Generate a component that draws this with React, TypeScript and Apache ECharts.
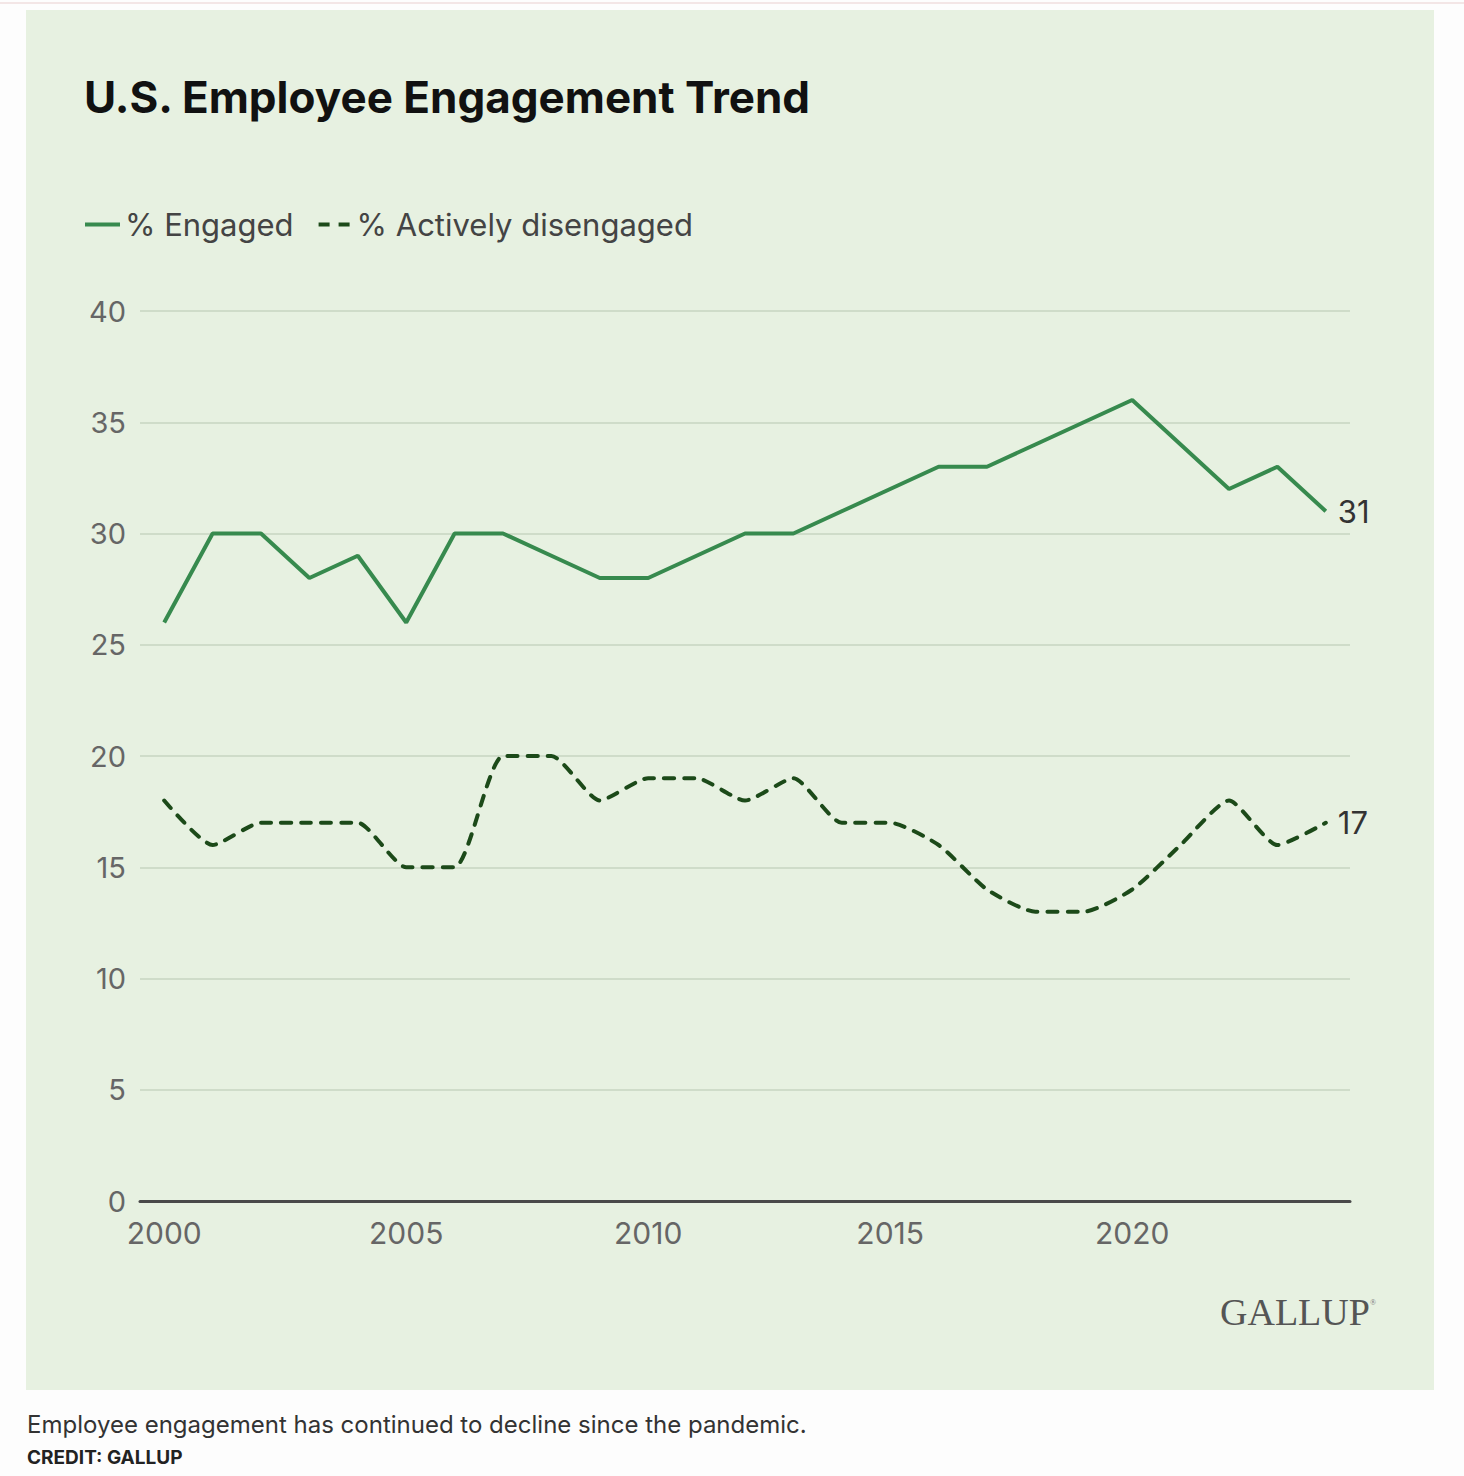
import React, { useEffect, useRef } from "react";
import * as echarts from "echarts";

const years = [
  "2000", "2001", "2002", "2003", "2004", "2005", "2006", "2007", "2008",
  "2009", "2010", "2011", "2012", "2013", "2014", "2015", "2016", "2017",
  "2018", "2019", "2020", "2021", "2022", "2023", "2024",
];
const engaged = [
  26, 30, 30, 28, 29, 26, 30, 30, 29, 28, 28, 29, 30, 30, 31, 32, 33, 33, 34,
  35, 36, 34, 32, 33, 31,
];
const disengaged = [
  18, 16, 17, 17, 17, 15, 15, 20, 20, 18, 19, 19, 18, 19, 17, 17, 16, 14, 13,
  13, 14, 16, 18, 16, 17,
];

const ENGAGED_COLOR = "#378a4e";
const DISENGAGED_COLOR = "#1c4a19";
const FONT = "Inter, 'Noto Sans', sans-serif";

const App: React.FC = () => {
  const chartRef = useRef<HTMLDivElement>(null);

  useEffect(() => {
    document.body.style.margin = "0";
    if (!chartRef.current) return;
    const chart = echarts.init(chartRef.current, undefined, { renderer: "svg" });

    chart.setOption({
      animation: false,
      backgroundColor: "#fdfdfd",
      textStyle: { fontFamily: FONT },
      graphic: [
        {
          type: "line",
          shape: { x1: 0, y1: 3, x2: 1464, y2: 3 },
          style: { stroke: "#f3e6e6", lineWidth: 2 },
          z: -10,
        },
        {
          type: "rect",
          shape: { x: 26, y: 10, width: 1408, height: 1380 },
          style: { fill: "#e7f1e1" },
          z: -10,
        },
        {
          type: "text",
          left: 84,
          top: 75,
          style: {
            text: "U.S. Employee Engagement Trend",
            font: `bold 44px ${FONT}`,
            fill: "#111",
          },
        },
        {
          type: "text",
          left: 1220,
          top: 1293,
          style: {
            text: "GALLUP",
            font: "38px 'Liberation Serif', 'DejaVu Serif', serif",
            fill: "#555",
          },
        },
        {
          type: "text",
          left: 1370,
          top: 1298,
          style: {
            text: "®",
            font: "8px 'Liberation Serif', serif",
            fill: "#777",
          },
        },
        {
          type: "text",
          left: 27,
          top: 1412,
          style: {
            text: "Employee engagement has continued to decline since the pandemic.",
            font: `24px ${FONT}`,
            fill: "#333",
          },
        },
        {
          type: "text",
          left: 27,
          top: 1448,
          style: {
            text: "CREDIT: GALLUP",
            font: `bold 19px ${FONT}`,
            fill: "#222",
          },
        },
      ],
      legend: {
        left: 85,
        top: 209,
        padding: 0,
        itemWidth: 35,
        itemHeight: 4,
        itemGap: 25,
        textStyle: { fontSize: 31, color: "#444", fontFamily: FONT },
        data: [
          {
            name: "% Engaged",
            icon: "path://M0,0h35v4h-35z",
            itemStyle: { color: ENGAGED_COLOR },
          },
          {
            name: "% Actively disengaged",
            icon: "path://M0,0h11v4h-11zM20,0h11v4h-11z",
            itemStyle: { color: DISENGAGED_COLOR },
          },
        ],
      },
      grid: { left: 140, right: 114, top: 311, bottom: 275 },
      xAxis: {
        type: "category",
        data: years,
        boundaryGap: true,
        axisLine: { lineStyle: { color: "#4a4a4a", width: 3 } },
        axisTick: { show: false },
        axisLabel: {
          interval: 4,
          fontSize: 30,
          color: "#666",
          margin: 17,
          fontFamily: FONT,
        },
      },
      yAxis: {
        type: "value",
        min: 0,
        max: 40,
        interval: 5,
        axisLine: { show: false },
        axisTick: { show: false },
        axisLabel: { fontSize: 29, color: "#666", margin: 14, fontFamily: FONT },
        splitLine: { lineStyle: { color: "#cfdcc9", width: 2 } },
      },
      series: [
        {
          name: "% Engaged",
          type: "line",
          data: engaged,
          showSymbol: false,
          lineStyle: { color: ENGAGED_COLOR, width: 4 },
          itemStyle: { color: ENGAGED_COLOR },
          endLabel: {
            show: true,
            formatter: "{c}",
            fontSize: 31,
            color: "#333",
            distance: 12,
            fontFamily: FONT,
          },
        },
        {
          name: "% Actively disengaged",
          type: "line",
          data: disengaged,
          showSymbol: false,
          smooth: 0.2,
          lineStyle: {
            color: DISENGAGED_COLOR,
            width: 4,
            type: [10, 10],
            cap: "round",
          },
          itemStyle: { color: DISENGAGED_COLOR },
          endLabel: {
            show: true,
            formatter: "{c}",
            fontSize: 31,
            color: "#333",
            distance: 12,
            fontFamily: FONT,
          },
        },
      ],
    });

    return () => {
      chart.dispose();
    };
  }, []);

  return <div ref={chartRef} style={{ width: 1464, height: 1476 }} />;
};

export default App;
